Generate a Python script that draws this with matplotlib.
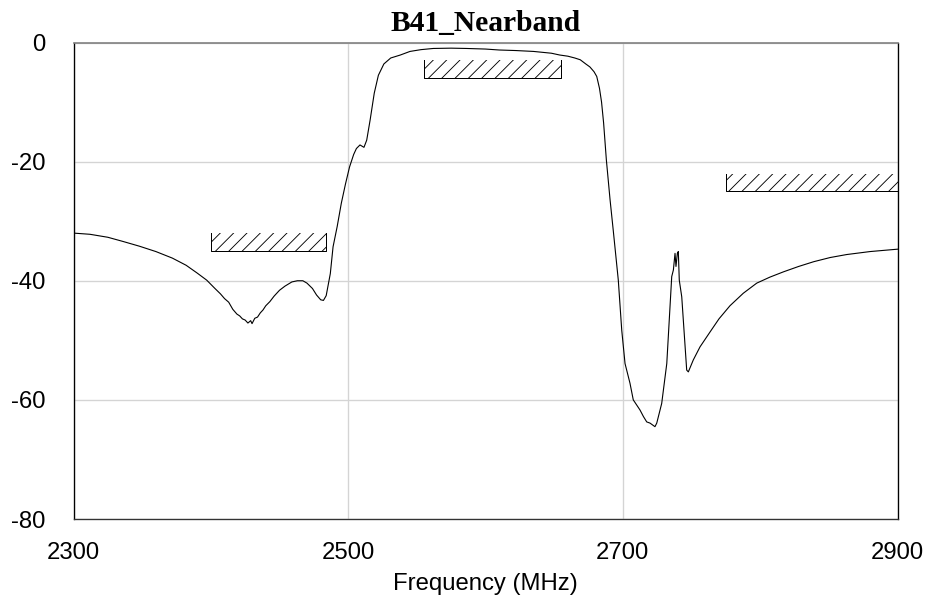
import matplotlib
matplotlib.use("Agg")
import matplotlib.pyplot as plt
from matplotlib.patches import Rectangle

# Data: frequency (MHz) and response (dB)
freq = [2300, 2312, 2325, 2336, 2348, 2360, 2372, 2382, 2390, 2397,
        2403, 2407, 2410, 2413, 2416, 2419, 2421, 2423, 2425, 2427,
        2429, 2430, 2432, 2434, 2436, 2438, 2440, 2443, 2446, 2450,
        2454, 2459, 2463, 2467, 2470, 2474, 2477, 2480, 2482, 2484,
        2487, 2489, 2492, 2495, 2498, 2501, 2504, 2506, 2508.6, 2511.5,
        2513.5, 2516, 2519, 2522, 2526, 2531, 2538, 2545, 2553, 2562,
        2575, 2586, 2600, 2610, 2622, 2635, 2648, 2654, 2660, 2665,
        2669, 2673, 2676, 2679, 2681, 2683, 2684.5, 2686, 2688, 2690.7,
        2693, 2696.7, 2699.2, 2701.6, 2705.2, 2707.6, 2712.5, 2715, 2717.4, 2719.8,
        2723.4, 2724.7, 2728.3, 2732, 2735.6, 2736.8, 2738, 2738.7, 2739.7, 2740.4,
        2741.1, 2742.9, 2746.5, 2747.7, 2751.3, 2756.2, 2763.5, 2770, 2778, 2787.7,
        2797.5, 2807, 2817, 2828, 2839, 2851, 2863, 2880, 2900]
gain = [-32.0, -32.2, -32.7, -33.4, -34.2, -35.1, -36.2, -37.4, -38.7, -39.9,
        -41.3, -42.2, -43.0, -43.6, -44.8, -45.6, -45.9, -46.4, -46.6, -47.1,
        -46.7, -47.2, -46.3, -46.1, -45.4, -44.9, -44.2, -43.5, -42.6, -41.6,
        -40.9, -40.2, -40.0, -40.0, -40.4, -41.3, -42.4, -43.2, -43.3, -42.5,
        -38.8, -34.3, -30.9, -27.0, -23.8, -20.9, -18.8, -17.8, -17.2, -17.6,
        -16.4, -13.0, -8.5, -5.5, -3.6, -2.6, -2.1, -1.5, -1.2, -1.0,
        -0.95, -1.0, -1.1, -1.26, -1.35, -1.5, -1.8, -2.1, -2.3, -2.6,
        -2.9, -3.6, -4.1, -4.9, -5.7, -7.7, -10.0, -13.5, -19.7, -26.4,
        -31.5, -39.9, -48.3, -53.9, -57.2, -60.0, -61.7, -62.8, -63.7, -63.9,
        -64.5, -63.9, -60.6, -53.9, -39.3, -38.2, -35.4, -37.6, -35.4, -35.1,
        -39.9, -42.7, -55.0, -55.3, -53.3, -51.1, -48.6, -46.4, -44.2, -42.1,
        -40.4, -39.4, -38.5, -37.6, -36.8, -36.1, -35.6, -35.1, -34.7]

# Spec masks: (f_start, f_stop, top_dB, bottom_dB)
mask_start = [2400, 2555, 2775]
mask_stop = [2483.5, 2655, 2900]
mask_top = [-32, -3, -22]
mask_bottom = [-35, -6, -25]

xticks = [2300, 2500, 2700, 2900]
yticks = [0, -20, -40, -60, -80]

plt.rcParams['axes.unicode_minus'] = False
plt.rcParams['hatch.linewidth'] = 0.8

DPI = 80
fig = plt.figure(figsize=(929 / DPI, 607 / DPI), dpi=DPI)
ax = fig.add_axes([73.5 / 929, 1 - 519 / 607, (897.5 - 73.5) / 929, (519 - 42.5) / 607])

ax.set_xlim(2300, 2900)
ax.set_ylim(-80, 0)
ax.set_xticks(xticks)
ax.set_yticks(yticks)
ax.grid(True, color='#d4d4d4', linewidth=1.2)
ax.set_axisbelow(True)

for fs, fe, top, bot in zip(mask_start, mask_stop, mask_top, mask_bottom):
    ax.add_patch(Rectangle((fs, bot), fe - fs, top - bot, fill=False,
                           hatch='//', edgecolor='black', linewidth=0))
    ax.plot([fs, fs, fe, fe], [top, bot, bot, top], color='black', linewidth=0.9)

ax.plot(freq, gain, color='black', linewidth=1.0)

ax.tick_params(axis='both', length=0)
ax.tick_params(axis='x', pad=21)
ax.tick_params(axis='y', pad=25)
for lab in ax.get_xticklabels() + ax.get_yticklabels():
    lab.set_fontfamily(['Liberation Sans', 'DejaVu Sans'])
    lab.set_fontsize(21.5)

ax.set_xlabel('Frequency (MHz)', fontfamily=['Liberation Sans', 'DejaVu Sans'],
              fontsize=21.5, labelpad=8)
ax.set_title('B41_Nearband', fontfamily=['Liberation Serif', 'DejaVu Serif'],
             fontsize=26.5, fontweight='bold', pad=10)

ax.spines['top'].set_color('#808080')
ax.spines['top'].set_linewidth(1.5)
for s in ['left', 'right', 'bottom']:
    ax.spines[s].set_color('black')
    ax.spines[s].set_linewidth(1.2)
ax.spines['bottom'].set_color('#333333')

fig.savefig('out.png', dpi=DPI)
